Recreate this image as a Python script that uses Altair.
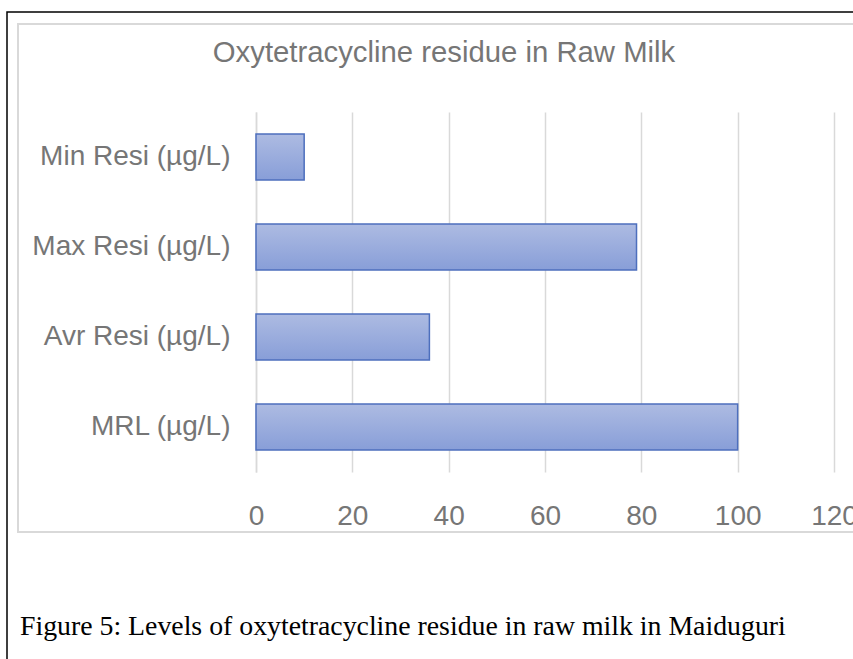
import altair as alt
import pandas as pd

categories = ["Min Resi (µg/L)", "Max Resi (µg/L)", "Avr Resi (µg/L)", "MRL (µg/L)"]
values = [10, 79, 36, 100]
x_ticks = [0, 20, 40, 60, 80, 100, 120]
title_text = "Oxytetracycline residue in Raw Milk"
caption_text = "Figure 5: Levels of oxytetracycline residue in raw milk in Maiduguri"

df = pd.DataFrame({"category": categories, "value": values})

LABEL_COLOR = "#767676"
GRID_COLOR = "#d9d9d9"

gradient = alt.Gradient(
    gradient="linear",
    x1=0, x2=0, y1=0, y2=1,
    stops=[alt.GradientStop(offset=0, color="#adbbe2"),
           alt.GradientStop(offset=1, color="#889ed8")],
)

bars = alt.Chart(df).mark_bar(
    color=gradient, stroke="#4d6fbd", strokeWidth=1.5
).encode(
    x=alt.X("value:Q",
            scale=alt.Scale(domain=[0, 120], nice=False),
            axis=alt.Axis(values=x_ticks, title=None, grid=True, gridColor=GRID_COLOR,
                          gridWidth=1.5, ticks=False, domain=False,
                          labelFont="Liberation Sans", labelFontSize=28,
                          labelColor=LABEL_COLOR, labelPadding=30,
                          labelOverlap=False, labelFlush=False)),
    y=alt.Y("category:N", sort=categories,
            scale=alt.Scale(paddingInner=0.49, paddingOuter=0.245),
            axis=alt.Axis(title=None, ticks=False, domain=True, domainColor=GRID_COLOR,
                          domainWidth=1.5, labelFont="Liberation Sans", labelFontSize=28,
                          labelColor=LABEL_COLOR, labelPadding=26, labelLimit=400)),
)

one = pd.DataFrame({"t": [0]})

outer_box = alt.Chart(one).mark_rect(fill="transparent", stroke="#000000", strokeWidth=1.5).encode(
    x=alt.value(-249), x2=alt.value(700), y=alt.value(-100), y2=alt.value(700)
)
inner_box = alt.Chart(one).mark_rect(fill="transparent", stroke=GRID_COLOR, strokeWidth=2).encode(
    x=alt.value(-238), x2=alt.value(700), y=alt.value(-88), y2=alt.value(420)
)

title_mark = alt.Chart(pd.DataFrame({"t": [title_text]})).mark_text(
    font="Liberation Sans", fontSize=29.3, color=LABEL_COLOR, align="center", baseline="alphabetic"
).encode(x=alt.value(444 - 256), y=alt.value(62 - 112), text="t:N")

caption_mark = alt.Chart(pd.DataFrame({"t": [caption_text]})).mark_text(
    font="Liberation Serif", fontSize=27.8, color="#000000", align="left", baseline="alphabetic"
).encode(x=alt.value(20 - 256), y=alt.value(635 - 112), text="t:N")

chart = alt.layer(outer_box, inner_box, bars, title_mark, caption_mark).properties(
    width=578, height=360,
    background="#ffffff",
    autosize=alt.AutoSizeParams(type="none"),
    padding={"left": 256, "top": 112, "right": 19, "bottom": 187},
).configure_view(stroke="transparent", strokeWidth=0)

chart.save("out.html", embed_options={"renderer": "svg", "actions": False})
